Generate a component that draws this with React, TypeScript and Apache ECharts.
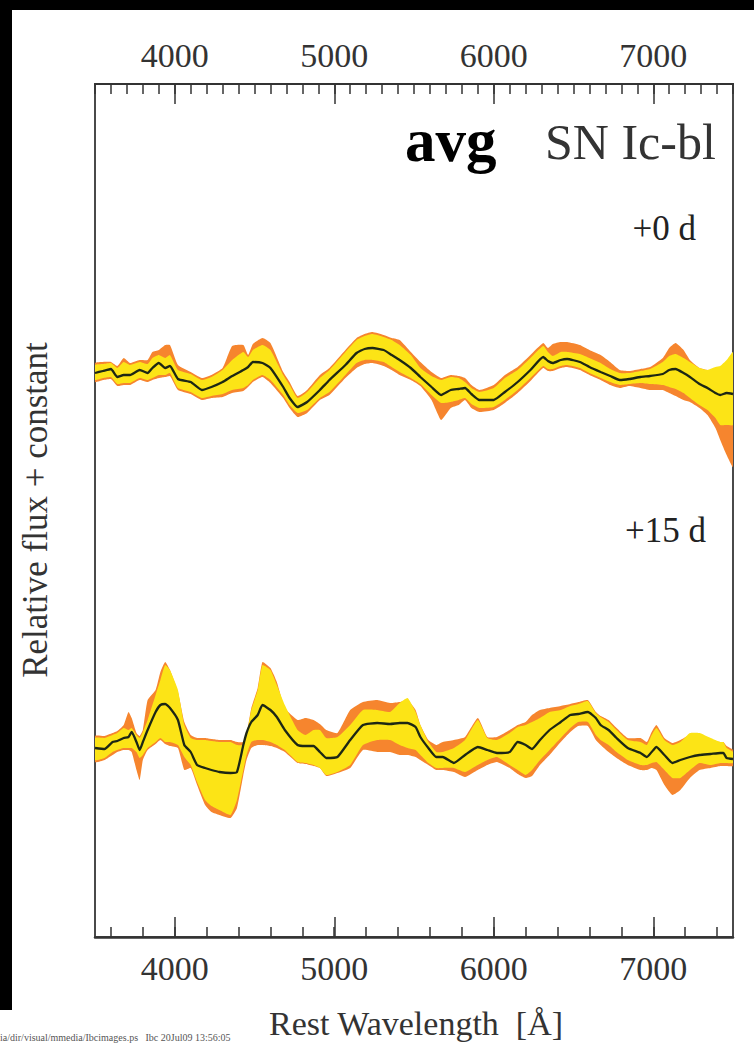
import React, { useEffect, useRef } from "react";
import * as echarts from "echarts";

// ---------- axis ranges / tick spacing (Å) ----------
const X_MIN = 3500;
const X_MAX = 7500;
const MAJOR_MIN = 4000;
const MAJOR_MAX = 7000;
const MAJOR_STEP = 1000;
const BOTTOM_MINOR_MIN = 3600;
const BOTTOM_MINOR_MAX = 7400;
const BOTTOM_MINOR_STEP = 200;
const TOP_MINOR_STEP = 100;

// ---------- +0 d spectrum ----------
const wl0 = [3500,3550,3600,3640,3680,3720,3780,3830,3860,3900,
  3940,3970,4020,4100,4170,4230,4300,4360,4430,4460,
  4490,4550,4600,4680,4720,4770,4830,4910,4970,5070,
  5140,5190,5240,5310,5360,5410,5480,5540,5610,5670,
  5730,5780,5820,5860,5910,6000,6070,6150,6230,6310,
  6340,6370,6420,6460,6540,6600,6670,6730,6790,6850,
  6920,6980,7060,7100,7140,7190,7230,7290,7340,7390,
  7420,7460,7500];
const mean0 = [5.64,5.66,5.68,5.60,5.62,5.62,5.67,5.64,5.69,5.74,
  5.69,5.71,5.58,5.55,5.47,5.50,5.55,5.61,5.67,5.70,
  5.75,5.74,5.69,5.50,5.39,5.30,5.35,5.47,5.57,5.72,
  5.84,5.88,5.89,5.87,5.82,5.77,5.69,5.60,5.50,5.42,
  5.47,5.48,5.49,5.43,5.37,5.37,5.45,5.55,5.67,5.80,
  5.76,5.74,5.77,5.78,5.75,5.70,5.65,5.61,5.57,5.58,
  5.60,5.61,5.63,5.67,5.68,5.64,5.60,5.53,5.49,5.44,
  5.42,5.44,5.43];
const yellowHi0 = [5.72,5.73,5.74,5.69,5.75,5.72,5.75,5.73,5.79,5.82,
  5.79,5.82,5.67,5.63,5.57,5.60,5.67,5.77,5.85,5.80,
  5.87,5.92,5.87,5.62,5.52,5.39,5.45,5.59,5.67,5.85,
  5.97,6.01,6.03,6.00,5.97,5.92,5.82,5.69,5.61,5.57,
  5.60,5.59,5.55,5.49,5.45,5.49,5.59,5.67,5.79,5.91,
  5.85,5.81,5.85,5.85,5.83,5.79,5.74,5.68,5.64,5.64,
  5.66,5.68,5.75,5.81,5.83,5.79,5.75,5.69,5.67,5.70,
  5.71,5.77,5.85];
const yellowLo0 = [5.57,5.59,5.60,5.53,5.54,5.54,5.59,5.57,5.59,5.62,
  5.62,5.64,5.49,5.45,5.39,5.41,5.43,5.47,5.49,5.52,
  5.57,5.62,5.57,5.42,5.32,5.24,5.27,5.39,5.45,5.62,
  5.74,5.77,5.77,5.75,5.70,5.65,5.59,5.53,5.42,5.34,
  5.35,5.37,5.39,5.33,5.29,5.30,5.37,5.47,5.59,5.71,
  5.68,5.68,5.71,5.72,5.69,5.64,5.59,5.55,5.52,5.53,
  5.54,5.53,5.52,5.50,5.48,5.44,5.39,5.32,5.27,5.19,
  5.12,5.12,5.12];
const orangeHi0 = [5.74,5.75,5.75,5.71,5.79,5.74,5.77,5.77,5.85,5.87,
  5.92,5.92,5.72,5.65,5.59,5.62,5.69,5.91,5.92,5.82,
  5.93,5.99,5.94,5.65,5.55,5.41,5.47,5.62,5.69,5.87,
  5.99,6.03,6.05,6.02,5.99,5.97,5.85,5.75,5.65,5.59,
  5.62,5.61,5.59,5.52,5.47,5.52,5.62,5.70,5.82,5.94,
  5.89,5.93,5.95,5.95,5.92,5.87,5.82,5.75,5.67,5.66,
  5.68,5.70,5.79,5.89,5.94,5.87,5.77,5.69,5.67,5.65,
  5.64,5.65,5.65];
const orangeLo0 = [5.55,5.57,5.58,5.51,5.52,5.52,5.57,5.55,5.57,5.59,
  5.60,5.61,5.47,5.43,5.37,5.39,5.40,5.44,5.46,5.50,
  5.55,5.60,5.54,5.39,5.29,5.20,5.24,5.37,5.42,5.59,
  5.69,5.73,5.74,5.71,5.67,5.62,5.57,5.51,5.37,5.17,
  5.29,5.32,5.37,5.29,5.25,5.27,5.34,5.44,5.56,5.69,
  5.66,5.66,5.69,5.70,5.67,5.62,5.57,5.52,5.49,5.51,
  5.49,5.47,5.47,5.44,5.41,5.37,5.35,5.29,5.22,5.09,
  4.97,4.82,4.70];

// ---------- +15 d spectrum ----------
const wl15 = [3500,3560,3610,3640,3680,3710,3730,3760,3780,3800,
  3830,3880,3910,3940,3970,4020,4060,4100,4140,4190,
  4230,4280,4350,4390,4430,4450,4480,4520,4550,4600,
  4640,4690,4770,4820,4870,4910,4950,5020,5100,5180,
  5270,5350,5410,5460,5510,5540,5590,5640,5680,5750,
  5820,5900,5960,6020,6100,6150,6200,6240,6290,6350,
  6420,6480,6530,6590,6640,6670,6720,6770,6840,6920,
  6960,6990,7020,7070,7120,7170,7230,7290,7360,7420,
  7440,7460,7500];
const mean15 = [1.89,1.88,1.95,1.96,1.99,2.00,2.05,1.95,1.87,1.95,
  2.07,2.25,2.32,2.33,2.29,2.17,1.92,1.85,1.72,1.69,
  1.67,1.65,1.64,1.65,1.92,2.04,2.15,2.22,2.32,2.27,
  2.20,2.07,1.92,1.91,1.91,1.85,1.79,1.80,1.97,2.12,
  2.14,2.13,2.14,2.14,2.10,2.00,1.89,1.80,1.80,1.74,
  1.82,1.90,1.87,1.84,1.85,1.95,1.92,1.88,1.97,2.07,
  2.15,2.22,2.23,2.25,2.19,2.12,2.07,1.99,1.89,1.84,
  1.80,1.85,1.90,1.82,1.74,1.77,1.80,1.82,1.83,1.84,
  1.84,1.79,1.78];
const yellowHi15 = [1.99,1.99,2.02,2.04,2.09,2.07,2.09,2.02,1.99,2.05,
  2.17,2.42,2.57,2.72,2.67,2.47,2.12,1.99,1.97,1.97,
  1.96,1.95,1.95,1.92,1.92,2.02,2.27,2.47,2.72,2.67,
  2.52,2.32,2.07,2.02,2.07,2.07,1.99,2.00,2.12,2.27,
  2.27,2.25,2.34,2.39,2.25,2.12,1.95,1.85,1.85,1.89,
  1.97,2.17,1.99,1.97,2.04,2.10,2.12,2.15,2.19,2.25,
  2.27,2.31,2.33,2.36,2.24,2.20,2.15,2.07,1.97,1.95,
  1.92,2.02,2.09,1.97,1.92,1.95,2.04,2.04,1.99,1.95,
  1.95,1.89,1.85];
const yellowLo15 = [1.77,1.79,1.85,1.87,1.89,1.89,1.89,1.85,1.79,1.82,
  1.89,1.95,1.99,1.95,1.95,1.92,1.80,1.72,1.55,1.37,
  1.31,1.27,1.22,1.37,1.67,1.82,1.95,1.97,1.97,1.95,
  1.92,1.87,1.75,1.74,1.72,1.69,1.62,1.65,1.72,1.92,
  1.97,1.97,1.92,1.89,1.87,1.82,1.74,1.69,1.69,1.69,
  1.65,1.72,1.77,1.80,1.72,1.67,1.62,1.67,1.77,1.87,
  1.99,2.09,2.15,2.15,2.02,1.97,1.92,1.85,1.77,1.72,
  1.72,1.74,1.75,1.67,1.59,1.59,1.67,1.74,1.72,1.74,
  1.74,1.74,1.74];
const orangeHi15 = [2.01,2.01,2.04,2.06,2.12,2.25,2.19,2.04,2.01,2.07,
  2.37,2.47,2.65,2.75,2.67,2.45,2.15,2.02,1.99,1.99,
  1.98,1.97,1.97,1.95,1.95,2.02,2.29,2.49,2.75,2.69,
  2.55,2.29,2.17,2.19,2.17,2.13,2.07,2.04,2.27,2.35,
  2.37,2.34,2.35,2.37,2.27,2.12,1.97,1.92,1.95,1.97,
  2.00,2.19,2.00,2.00,2.07,2.12,2.15,2.22,2.27,2.29,
  2.31,2.33,2.35,2.37,2.25,2.21,2.17,2.09,1.99,1.99,
  1.95,2.05,2.12,1.99,1.94,1.97,2.02,1.99,1.97,1.95,
  1.95,1.91,1.87];
const orangeLo15 = [1.75,1.77,1.82,1.85,1.87,1.87,1.85,1.67,1.57,1.77,
  1.87,1.93,1.97,1.93,1.91,1.89,1.67,1.69,1.52,1.32,
  1.25,1.22,1.19,1.29,1.62,1.77,1.89,1.92,1.92,1.91,
  1.89,1.85,1.74,1.73,1.71,1.69,1.61,1.64,1.69,1.87,
  1.85,1.85,1.82,1.82,1.80,1.77,1.72,1.67,1.67,1.65,
  1.60,1.67,1.72,1.75,1.69,1.63,1.59,1.61,1.72,1.82,
  1.95,2.05,2.11,2.11,1.97,1.92,1.85,1.79,1.72,1.67,
  1.67,1.69,1.67,1.52,1.42,1.47,1.59,1.67,1.69,1.71,
  1.71,1.71,1.71];

const SERIF = "'Liberation Serif', 'DejaVu Serif', serif";
const YELLOW = "#FCE416";
const ORANGE = "#F6852E";
const MEAN_COLOR = "#1d2714";
const AXIS_COLOR = "#333";

// plot frame in page pixels
const FRAME_LEFT = 95;
const FRAME_RIGHT = 733;
const FRAME_TOP = 84;
const FRAME_BOTTOM = 937;
const PAGE_W = 754;
const PAGE_H = 1044;

function band(name: string, wl: number[], lo: number[], hi: number[], color: string, z: number) {
  return {
    type: "custom",
    name,
    z,
    xAxisIndex: 0,
    yAxisIndex: 0,
    clip: true,
    data: wl.map((w, i) => [w, lo[i], hi[i]]),
    encode: { x: 0, y: [1, 2] },
    renderItem: (params: any, api: any) => {
      if (params.dataIndex !== 0) return null;
      const pts: number[][] = [];
      for (let i = 0; i < wl.length; i++) pts.push(api.coord([wl[i], hi[i]]));
      for (let i = wl.length - 1; i >= 0; i--) pts.push(api.coord([wl[i], lo[i]]));
      return {
        type: "polygon",
        shape: { points: pts, smooth: 0.15 },
        style: { fill: color, stroke: null },
      };
    },
  };
}

function meanLine(name: string, wl: number[], v: number[]) {
  return {
    type: "line",
    name,
    z: 5,
    xAxisIndex: 0,
    yAxisIndex: 0,
    data: wl.map((w, i) => [w, v[i]]),
    showSymbol: false,
    symbol: "none",
    smooth: 0.15,
    lineStyle: { color: MEAN_COLOR, width: 2.3 },
  };
}

export default function App() {
  const ref = useRef<HTMLDivElement>(null);
  useEffect(() => {
    if (!ref.current) return;
    const chart = echarts.init(ref.current, null, { renderer: "svg" });
    const pxPerA = (FRAME_RIGHT - FRAME_LEFT) / (X_MAX - X_MIN);
    const gridFor = (lo: number, hi: number, show: boolean) => ({
      left: FRAME_LEFT + (lo - X_MIN) * pxPerA,
      right: PAGE_W - (FRAME_RIGHT - (X_MAX - hi) * pxPerA),
      top: FRAME_TOP,
      bottom: PAGE_H - FRAME_BOTTOM,
      show,
      borderColor: "#4a4a4a",
      borderWidth: 2,
      backgroundColor: "transparent",
    });
    const labelStyle = {
      show: true,
      fontFamily: SERIF,
      fontSize: 34,
      color: AXIS_COLOR,
      formatter: (v: number) => String(v),
    };
    const noLabel = { show: false };
    const hiddenY = (gridIndex: number) => ({
      type: "value",
      gridIndex,
      min: 0,
      max: 8.53,
      axisLine: { show: false },
      axisTick: { show: false },
      axisLabel: { show: false },
      splitLine: { show: false },
    });
    chart.setOption({
      animation: false,
      backgroundColor: "#ffffff",
      grid: [
        gridFor(X_MIN, X_MAX, true),
        gridFor(BOTTOM_MINOR_MIN, BOTTOM_MINOR_MAX, false),
        gridFor(MAJOR_MIN, MAJOR_MAX, false),
      ],
      xAxis: [
        {
          type: "value", gridIndex: 0, position: "bottom", min: X_MIN, max: X_MAX,
          axisLine: { show: true, onZero: false, lineStyle: { color: AXIS_COLOR, width: 2.5 } },
          axisTick: { show: false }, axisLabel: noLabel, splitLine: { show: false },
        },
        {
          type: "value", gridIndex: 0, position: "top", min: X_MIN, max: X_MAX, interval: TOP_MINOR_STEP,
          axisLine: { show: true, onZero: false, lineStyle: { color: AXIS_COLOR, width: 2 } },
          axisTick: { show: true, inside: true, length: 10, lineStyle: { color: AXIS_COLOR, width: 1.5 } },
          axisLabel: noLabel, splitLine: { show: false },
        },
        {
          type: "value", gridIndex: 1, position: "bottom", min: BOTTOM_MINOR_MIN, max: BOTTOM_MINOR_MAX, interval: BOTTOM_MINOR_STEP,
          axisLine: { show: false, onZero: false },
          axisTick: { show: true, inside: true, length: 10, lineStyle: { color: AXIS_COLOR, width: 1.5 } },
          axisLabel: noLabel, splitLine: { show: false },
        },
        {
          type: "value", gridIndex: 2, position: "bottom", min: MAJOR_MIN, max: MAJOR_MAX, interval: MAJOR_STEP,
          axisLine: { show: false, onZero: false },
          axisTick: { show: true, inside: true, length: 20, lineStyle: { color: AXIS_COLOR, width: 1.5 } },
          axisLabel: { ...labelStyle, margin: 14 }, splitLine: { show: false },
        },
        {
          type: "value", gridIndex: 2, position: "top", min: MAJOR_MIN, max: MAJOR_MAX, interval: MAJOR_STEP,
          axisLine: { show: false, onZero: false },
          axisTick: { show: true, inside: true, length: 20, lineStyle: { color: AXIS_COLOR, width: 1.5 } },
          axisLabel: { ...labelStyle, margin: 12 }, splitLine: { show: false },
        },
      ],
      yAxis: [hiddenY(0), hiddenY(1), hiddenY(2)],
      series: [
        band("+0 d orange", wl0, orangeLo0, orangeHi0, ORANGE, 1),
        band("+0 d yellow", wl0, yellowLo0, yellowHi0, YELLOW, 2),
        meanLine("+0 d mean", wl0, mean0),
        band("+15 d orange", wl15, orangeLo15, orangeHi15, ORANGE, 1),
        band("+15 d yellow", wl15, yellowLo15, yellowHi15, YELLOW, 2),
        meanLine("+15 d mean", wl15, mean15),
      ],
      graphic: [
        { type: "rect", left: 0, top: 0, shape: { width: 12, height: 1010 }, style: { fill: "#000" }, silent: true },
        { type: "rect", left: 0, top: 0, shape: { width: 754, height: 10 }, style: { fill: "#000" }, silent: true },
        {
          type: "text", x: 405, y: 140,
          style: { text: "avg", font: `bold 61px ${SERIF}`, fill: "#000", textVerticalAlign: "middle" },
        },
        {
          type: "text", x: 545, y: 142,
          style: { text: "SN Ic-bl", font: `50px ${SERIF}`, fill: "#333", textVerticalAlign: "middle" },
        },
        {
          type: "text", x: 696, y: 228,
          style: { text: "+0 d", font: `35px ${SERIF}`, fill: "#222", textAlign: "right", textVerticalAlign: "middle" },
        },
        {
          type: "text", x: 706, y: 530,
          style: { text: "+15 d", font: `35px ${SERIF}`, fill: "#222", textAlign: "right", textVerticalAlign: "middle" },
        },
        {
          type: "text", x: 416, y: 1023,
          style: { text: "Rest Wavelength  [Å]", font: `34px ${SERIF}`, fill: "#333", textAlign: "center", textVerticalAlign: "middle" },
        },
        {
          type: "text", x: 35, y: 510, rotation: Math.PI / 2,
          style: { text: "Relative flux + constant", font: `35px ${SERIF}`, fill: "#333", textAlign: "center", textVerticalAlign: "middle" },
        },
        {
          type: "text", x: 0, y: 1037,
          style: { text: "ia/dir/visual/mmedia/Ibcimages.ps   Ibc 20Jul09 13:56:05", font: `10px ${SERIF}`, fill: "#555", textVerticalAlign: "middle" },
        },
      ],
    });
    return () => chart.dispose();
  }, []);
  return <div ref={ref} style={{ position: "absolute", left: 0, top: 0, width: PAGE_W, height: PAGE_H }} />;
}
